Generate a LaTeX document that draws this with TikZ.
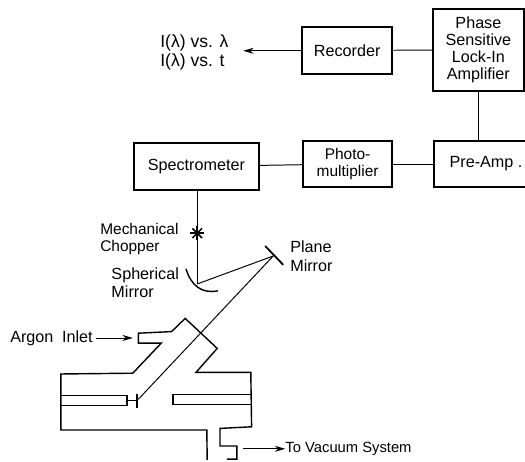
\documentclass[tikz,border=0pt]{standalone}
\usepackage{fontspec}
\setmainfont{Liberation Sans}
\usetikzlibrary{arrows.meta}

\tikzset{
  unitbox/.style={draw, line width=1.1pt, align=center, inner sep=0pt},
  tag/.style={anchor=west, align=left, inner sep=0pt, font=\fontsize{11.5}{13.2}\selectfont},
  wire/.style={line width=0.7pt},
  flow/.style={line width=0.6pt, -{Stealth[length=2.6mm, width=1.5mm]}},
  wall/.style={line width=1pt, line join=miter}
}

\begin{document}
\begin{tikzpicture}[every node/.style={font=\fontsize{11.5}{12}\selectfont}]
  \useasboundingbox (0,0) rectangle (13.125,11.55);

  % electronics chain
  \node[unitbox, minimum width=2.25cm, minimum height=1.18cm] (recorder) at (8.68,10.29) {Recorder};
  \node[unitbox, minimum width=2.28cm, minimum height=2.05cm] (lockin) at (11.96,10.30)
       {Phase\\Sensitive\\Lock-In\\Amplifier};
  \node[unitbox, minimum width=2.6cm, minimum height=1.15cm] (preamp) at (12.15,7.45) {Pre-Amp .};
  \node[unitbox, minimum width=2.23cm, minimum height=1.15cm, font=\fontsize{11}{12}\selectfont] (pmt) at (8.69,7.45) {Photo-\\multiplier};
  \node[unitbox, minimum width=3.13cm, minimum height=1.18cm] (spectrometer) at (4.91,7.39) {Spectrometer};
  \draw[wire] (lockin) -- (recorder);
  \draw[wire] (lockin.south) -- (lockin.south |- preamp.north);
  \draw[wire] (preamp) -- (pmt);
  \draw[wire] (pmt) -- (spectrometer);

  % recorder output
  \node[tag, font=\fontsize{12.5}{13.5}\selectfont] (traces) at (4.0,10.24) {I(λ) vs. λ\\I(λ) vs. t};
  \coordinate (output) at (6.08,10.28);
  \draw[flow] (recorder.west |- output) -- (output);

  % optics
  \coordinate (chopper) at (4.93,5.72);
  \coordinate (sphere) at (4.93,4.45);
  \coordinate (plane) at (6.83,5.15);
  \coordinate (detector) at (3.46,1.57);
  \draw[wire] (spectrometer.south -| chopper) -- (chopper);
  \draw[wire] (chopper) -- (sphere);
  \draw[wire] (sphere) -- (plane);
  \draw[wire] (plane) -- (detector);
  \foreach \ang in {0,45,90,135}
    \draw[line width=1.1pt] (chopper) ++(\ang:0.17) -- ++(\ang+180:0.34);
  \draw[wall] (4.65,4.83) .. controls (4.78,4.4) and (5.05,4.2) .. (5.45,4.28);
  \draw[line width=1.3pt] (6.63,5.4) -- (7.08,4.93);
  \node[tag, font=\fontsize{11}{12.5}\selectfont] (choplabel) at (2.5,5.58) {Mechanical\\Chopper};
  \node[tag] (spherelabel) at (2.78,4.48) {Spherical\\Mirror};
  \node[tag] (planelabel) at (7.25,5.15) {Plane\\Mirror};

  % discharge tube
  \draw[wall] (5.67,0.07) -- (5.92,0.07) -- (5.92,0.40) -- (5.50,0.40) -- (5.50,0.84)
       -- (6.29,0.88) -- (6.27,2.24) -- (4.90,2.24) -- (5.43,2.84) -- (4.63,3.59)
       -- (4.29,3.26) -- (3.46,3.22) -- (3.46,2.97) -- (4.03,2.97) -- (3.32,2.22)
       -- (1.52,2.20) -- (1.52,0.80) -- (5.17,0.80) -- (5.18,0.05);
  % electrodes
  \draw[wall] (1.52,1.66) -- (3.18,1.66) -- (3.18,1.41) -- (1.52,1.41);
  \draw[wall] (6.28,1.68) -- (4.32,1.68) -- (4.32,1.43) -- (6.28,1.43);
  \draw[wire] (3.18,1.53) -- (3.43,1.53);
  \draw[wall] (3.43,1.70) -- (3.43,1.35);

  % gas in and out
  \node[tag] (argon) at (0.25,3.1) {Argon\hspace{3pt} Inlet};
  \coordinate (inlet) at (3.32,3.1);
  \draw[flow] (argon.east) ++(0.08,0) -- (inlet);
  \node[tag, font=\fontsize{10.5}{12}\selectfont] (vacuum) at (7.13,0.33) {To Vacuum System};
  \coordinate (pump) at (6.08,0.33);
  \draw[flow] (pump) -- (vacuum);
\end{tikzpicture}
\end{document}
